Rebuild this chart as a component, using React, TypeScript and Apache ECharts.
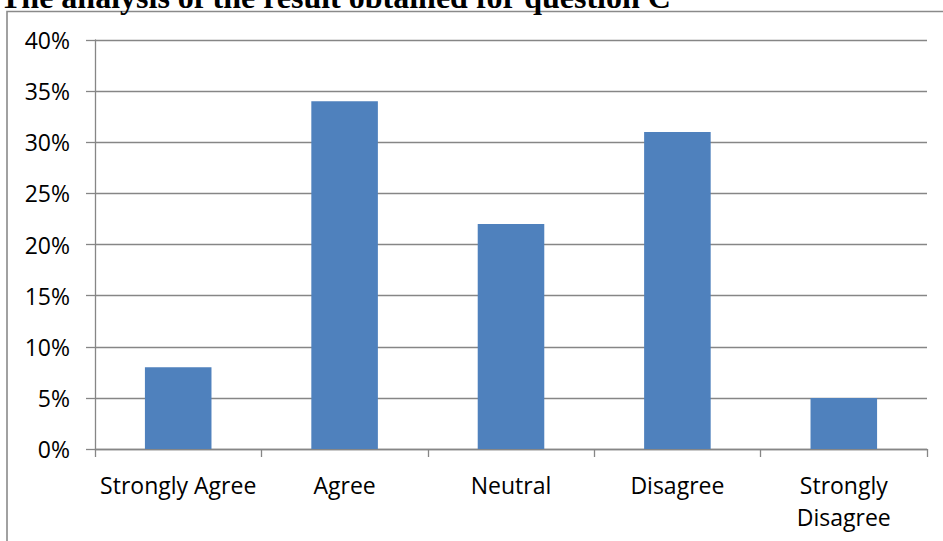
import React, { useEffect, useRef } from "react";
import * as echarts from "echarts";

const titleText = "The analysis of the result obtained for question C";
const categories = ["Strongly Agree", "Agree", "Neutral", "Disagree", "Strongly Disagree"];
const values = [8, 34, 22, 31, 5];
const yMin = 0;
const yMax = 40;
const yStep = 5;

export default function App() {
  const ref = useRef<HTMLDivElement>(null);
  useEffect(() => {
    if (!ref.current) return;
    const chart = echarts.init(ref.current, null, { renderer: "svg" });
    const labelFont = '"Open Sans", sans-serif';
    chart.setOption({
      animation: false,
      backgroundColor: "#ffffff",
      graphic: [
        {
          type: "rect",
          shape: { x: 7, y: 11.5, width: 960, height: 560 },
          style: { fill: "none", stroke: "#8a8a8a", lineWidth: 1.6 },
          silent: true,
        },
        {
          type: "text",
          x: 0,
          y: -3,
          style: {
            text: titleText,
            font: 'bold 32px "Liberation Serif", "Times New Roman", serif',
            fill: "#000000",
            align: "left",
            verticalAlign: "middle",
          },
        },
      ],
      grid: { left: 95, right: 16, top: 40, bottom: 92, containLabel: false },
      xAxis: {
        type: "category",
        data: categories,
        boundaryGap: true,
        axisLine: { show: true, lineStyle: { color: "#868686", width: 1.3 } },
        axisTick: { show: true, length: 8, alignWithLabel: false, lineStyle: { color: "#868686", width: 1.3 } },
        axisLabel: {
          color: "#000000",
          fontFamily: labelFont,
          fontSize: 23,
          lineHeight: 32,
          margin: 20,
          interval: 0,
          formatter: (v: string) => (v === "Strongly Disagree" ? "Strongly\nDisagree" : v),
        },
        splitLine: { show: false },
      },
      yAxis: {
        type: "value",
        min: yMin,
        max: yMax,
        interval: yStep,
        axisLine: { show: true, lineStyle: { color: "#868686", width: 1.3 } },
        axisTick: { show: true, length: 9, lineStyle: { color: "#868686", width: 1.3 } },
        axisLabel: {
          color: "#000000",
          fontFamily: labelFont,
          fontSize: 23,
          margin: 25,
          formatter: (v: number) => `${v}%`,
        },
        splitLine: { show: true, lineStyle: { color: "#868686", width: 1.3 } },
      },
      series: [
        {
          type: "bar",
          data: values,
          barCategoryGap: "60%",
          itemStyle: { color: "#4F81BD" },
        },
      ],
    });
    return () => chart.dispose();
  }, []);
  return (
    <div
      ref={ref}
      style={{ position: "fixed", left: 0, top: 0, width: 943, height: 541 }}
    />
  );
}
